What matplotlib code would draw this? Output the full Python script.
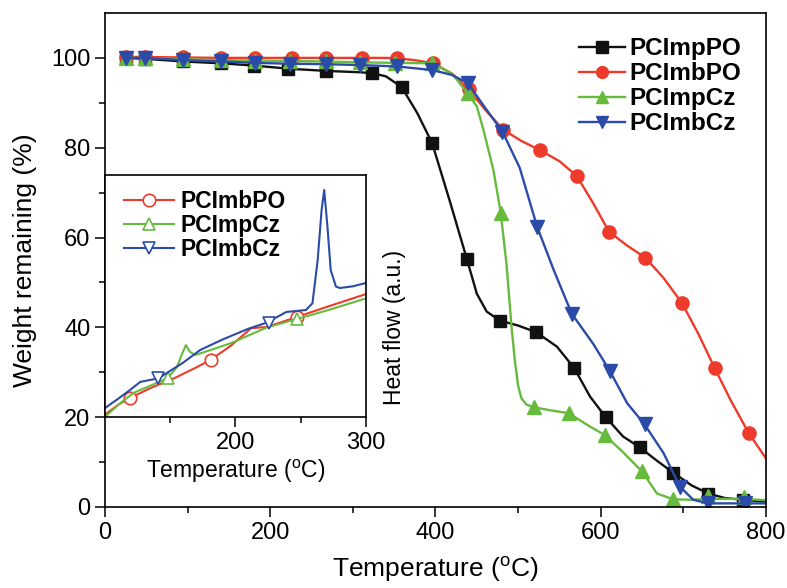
import matplotlib
matplotlib.use("Agg")
import matplotlib.pyplot as plt

plt.rcParams["font.family"] = ["Liberation Sans", "DejaVu Sans"]
plt.rcParams["mathtext.fontset"] = "custom"
plt.rcParams["mathtext.rm"] = "Liberation Sans"

# ---- main TGA data: (temperature, weight remaining %) ----
series_names = ["PCImpPO", "PCImbPO", "PCImpCz", "PCImbCz"]

impPO_t = [25, 48, 95, 140, 180, 222, 268, 309, 323, 340, 359, 378, 396, 418, 438, 450, 462, 478,
           500, 522, 547, 568, 587, 606, 627, 647, 668, 688, 710, 730, 750, 772, 800]
impPO_w = [100.0, 99.8, 99.2, 98.8, 98.3, 97.6, 97.1, 96.8, 96.6, 95.9, 93.5, 87.7, 81.0, 67.7, 55.2,
           47.5, 43.5, 41.5, 40.4, 38.9, 35.7, 30.9, 24.6, 20.0, 15.7, 13.3, 10.3, 7.6, 4.8, 3.0,
           2.0, 1.6, 1.2]
impPO_mark_t = [25, 48, 95, 140, 180, 222, 268, 323, 359, 396, 438, 478, 522, 568, 606, 647, 688, 730, 772]
impPO_mark_w = [100.0, 99.8, 99.2, 98.8, 98.3, 97.6, 97.1, 96.6, 93.5, 81.0, 55.2, 41.5, 38.9, 30.9,
                20.0, 13.3, 7.6, 3.0, 1.6]

imbPO_t = [25, 48, 95, 140, 182, 226, 268, 311, 340, 353, 375, 397, 420, 440, 460, 482, 504, 527,
           550, 571, 591, 610, 632, 654, 676, 698, 718, 738, 758, 779, 800]
imbPO_w = [100.2, 100.2, 100.1, 100.0, 100.0, 100.0, 100.0, 100.0, 100.0, 99.9, 99.5, 98.8, 96.5,
           93.0, 88.5, 84.0, 81.5, 79.4, 77.0, 73.7, 67.6, 61.3, 58.2, 55.5, 51.0, 45.5, 38.6, 30.9,
           23.5, 16.5, 10.8]
imbPO_mark_t = [25, 48, 95, 140, 182, 226, 268, 311, 353, 397, 440, 482, 527, 571, 610, 654, 698, 738, 779]
imbPO_mark_w = [100.2, 100.2, 100.1, 100.0, 100.0, 100.0, 100.0, 100.0, 99.9, 98.8, 93.0, 84.0, 79.4,
                73.7, 61.3, 55.5, 45.5, 30.9, 16.5]

impCz_t = [25, 48, 95, 141, 182, 224, 268, 309, 351, 396, 420, 439, 450, 458, 470, 479, 486, 492,
           496, 500, 504, 510, 519, 540, 561, 587, 605, 628, 650, 668, 688, 710, 730, 773, 800]
impCz_w = [100.0, 100.0, 99.7, 99.5, 99.4, 99.3, 99.2, 99.0, 98.9, 98.8, 96.5, 92.1, 89.2, 84.0,
           75.1, 65.5, 54.0, 40.2, 32.7, 27.0, 24.2, 22.8, 22.2, 21.5, 20.9, 17.9, 16.0, 12.0, 7.9,
           3.0, 1.7, 1.6, 1.8, 1.8, 1.5]
impCz_mark_t = [25, 48, 95, 141, 182, 224, 268, 309, 351, 396, 439, 479, 519, 561, 605, 650, 688, 730, 773]
impCz_mark_w = [100.0, 100.0, 99.7, 99.5, 99.4, 99.3, 99.2, 99.0, 98.9, 98.8, 92.1, 65.5, 22.2, 20.9,
                16.0, 7.9, 1.7, 2.4, 2.2]

imbCz_t = [25, 48, 94, 141, 182, 224, 268, 309, 353, 396, 420, 439, 462, 481, 502, 523, 543, 565,
           579, 591, 611, 632, 653, 676, 696, 712, 730, 775, 800]
imbCz_w = [100.0, 100.0, 99.5, 99.2, 98.9, 98.7, 98.6, 98.4, 98.1, 97.3, 96.2, 94.4, 88.4, 83.6,
           75.5, 62.4, 52.8, 43.0, 39.4, 36.3, 30.3, 23.1, 18.4, 12.0, 4.5, 1.6, 0.8, 0.8, 0.8]
imbCz_mark_t = [25, 48, 94, 141, 182, 224, 268, 309, 353, 396, 439, 481, 523, 565, 611, 653, 696, 730, 775]
imbCz_mark_w = [100.0, 100.0, 99.5, 99.2, 98.9, 98.7, 98.6, 98.4, 98.1, 97.3, 94.4, 83.6, 62.4, 43.0,
                30.3, 18.4, 4.5, 0.8, 0.8]

# ---- inset DSC data: (temperature, heat flow a.u.) ----
inset_names = ["PCImbPO", "PCImpCz", "PCImbCz"]

dsc_imbPO_t = [100, 110, 119, 135, 153, 170, 181, 197, 212, 224, 247, 270, 300]
dsc_imbPO_h = [0.01, 0.05, 0.078, 0.12, 0.16, 0.205, 0.236, 0.297, 0.367, 0.372, 0.413, 0.455, 0.508]
dsc_imbPO_mark_t = [119, 181, 247]
dsc_imbPO_mark_h = [0.078, 0.236, 0.413]

dsc_impCz_t = [100, 110, 122, 135, 148, 155, 159, 162, 165, 169, 180, 197, 224, 247, 270, 300]
dsc_impCz_h = [0.0, 0.05, 0.1, 0.13, 0.16, 0.205, 0.26, 0.297, 0.27, 0.256, 0.275, 0.306, 0.37,
               0.405, 0.44, 0.49]
dsc_impCz_mark_t = [148, 247]
dsc_impCz_mark_h = [0.16, 0.405]

dsc_imbCz_t = [100, 110, 120, 127, 141, 160, 173, 190, 210, 224, 239, 254, 259, 263, 266, 268,
               270.5, 273, 277, 280, 290, 300]
dsc_imbCz_h = [0.037, 0.075, 0.115, 0.145, 0.16, 0.225, 0.277, 0.32, 0.365, 0.39, 0.434, 0.442,
               0.47, 0.649, 0.855, 0.938, 0.786, 0.607, 0.539, 0.533, 0.54, 0.554]
dsc_imbCz_mark_t = [141, 226]
dsc_imbCz_mark_h = [0.16, 0.39]

colors = ["#111111", "#EE3A2A", "#66BB3C", "#2B4BA8"]
markers = ["s", "o", "^", "v"]
msizes = [9, 9.5, 10, 10]

fig = plt.figure(figsize=(7.87, 5.88), dpi=100)
ax = fig.add_axes([0.1334, 0.1378, 0.8399, 0.8401])

main_data = [
    (impPO_t, impPO_w, impPO_mark_t, impPO_mark_w),
    (imbPO_t, imbPO_w, imbPO_mark_t, imbPO_mark_w),
    (impCz_t, impCz_w, impCz_mark_t, impCz_mark_w),
    (imbCz_t, imbCz_w, imbCz_mark_t, imbCz_mark_w),
]
handles = []
for (t, w, mt, mw), name, c, m, ms in zip(main_data, series_names, colors, markers, msizes):
    ax.plot(t, w, color=c, lw=1.7)
    ax.plot(mt, mw, ls="none", marker=m, color=c, ms=ms)
    handles.append(plt.Line2D([], [], color=c, lw=1.7, marker=m, ms=ms - 1, label=name))

ax.set_xlim(0, 800)
ax.set_ylim(0, 110)
ax.set_xticks([0, 200, 400, 600, 800])
ax.set_xticks([100, 300, 500, 700], minor=True)
ax.set_yticks([0, 20, 40, 60, 80, 100])
ax.set_yticks([10, 30, 50, 70, 90], minor=True)
ax.tick_params(which="major", direction="out", length=7, width=1.1, labelsize=17)
ax.tick_params(which="minor", direction="out", length=4, width=1.1)
for s in ax.spines.values():
    s.set_linewidth(1.2)
ax.set_xlabel("Temperature ($^\\mathrm{o}$C)", fontsize=19, labelpad=8)
ax.set_ylabel("Weight remaining (%)", fontsize=19, labelpad=10)
ax.legend(handles=handles, loc="upper right", bbox_to_anchor=(0.985, 0.98), frameon=False,
          prop={"weight": "bold", "size": 17.5}, handlelength=1.9, handletextpad=0.2,
          labelspacing=0.08, borderaxespad=0.2)

# ---- inset ----
axi = fig.add_axes([0.1334, 0.2908, 0.3316, 0.4116])
inset_data = [
    (dsc_imbPO_t, dsc_imbPO_h, dsc_imbPO_mark_t, dsc_imbPO_mark_h),
    (dsc_impCz_t, dsc_impCz_h, dsc_impCz_mark_t, dsc_impCz_mark_h),
    (dsc_imbCz_t, dsc_imbCz_h, dsc_imbCz_mark_t, dsc_imbCz_mark_h),
]
ihandles = []
for (t, h, mt, mh), name, c, m in zip(inset_data, inset_names, colors[1:], markers[1:]):
    axi.plot(t, h, color=c, lw=1.5)
    axi.plot(mt, mh, ls="none", marker=m, mfc="white", mec=c, mew=1.2, ms=9)
    ihandles.append(plt.Line2D([], [], color=c, lw=1.5, marker=m, mfc="white", mec=c,
                               mew=1.2, ms=9, label=name))

axi.set_xlim(100, 300)
axi.set_ylim(0, 1)
axi.set_xticks([200, 300])
axi.set_xticks([150, 250], minor=True)
axi.set_yticks([])
axi.tick_params(which="major", direction="out", length=7, width=1.1, labelsize=17)
axi.tick_params(which="minor", direction="out", length=4, width=1.1)
for s in axi.spines.values():
    s.set_linewidth(1.2)
axi.set_xlabel("Temperature ($^\\mathrm{o}$C)", fontsize=16.5, labelpad=3)
axi.yaxis.set_label_position("right")
axi.set_ylabel("Heat flow (a.u.)", fontsize=16.5)
axi.yaxis.set_label_coords(1.065, 0.37)
axi.legend(handles=ihandles, loc="upper left", bbox_to_anchor=(0.02, 0.995), frameon=False,
           prop={"weight": "bold", "size": 16.5}, handlelength=2.2, handletextpad=0.25,
           labelspacing=0.05, borderaxespad=0.2)

fig.savefig("out.png", dpi=100)
